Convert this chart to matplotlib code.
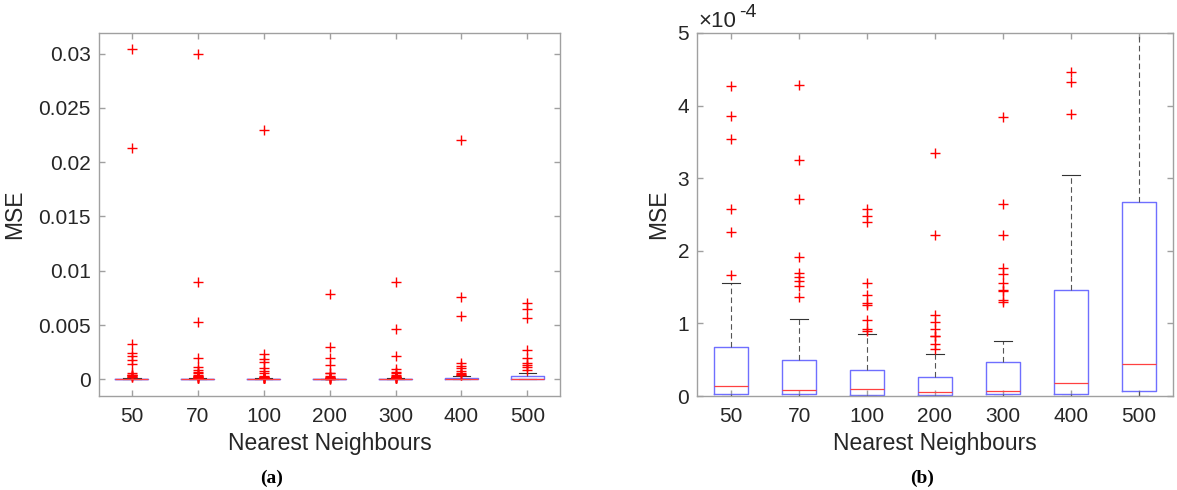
import matplotlib
matplotlib.use("Agg")
import matplotlib.pyplot as plt

plt.rcParams['font.family'] = ['Liberation Sans', 'DejaVu Sans']

# vizinhos mais próximos (rótulos do eixo x)
vizinhos = ['50', '70', '100', '200', '300', '400', '500']

# estatísticas das caixas (MSE)
q1 = [0.023e-4, 0.023e-4, 0.014e-4, 0.010e-4, 0.023e-4, 0.028e-4, 0.069e-4]
mediana = [0.133e-4, 0.083e-4, 0.096e-4, 0.050e-4, 0.069e-4, 0.174e-4, 0.436e-4]
q3 = [0.68e-4, 0.495e-4, 0.358e-4, 0.266e-4, 0.468e-4, 1.46e-4, 2.67e-4]
bigode_inf = [0.0, 0.0, 0.0, 0.0, 0.0, 0.0, 0.0]
bigode_sup = [1.55e-4, 1.064e-4, 0.85e-4, 0.578e-4, 0.752e-4, 3.05e-4, 6.1e-4]

# outliers de cada grupo
outliers = [
    [1.67e-4, 2.26e-4, 2.58e-4, 3.54e-4, 3.86e-4, 4.27e-4,
     0.00055, 0.0014, 0.0018, 0.0021, 0.00245, 0.00325, 0.02126, 0.0304],
    [1.36e-4, 1.52e-4, 1.58e-4, 1.64e-4, 1.70e-4, 1.91e-4, 2.71e-4, 3.25e-4, 4.29e-4,
     0.00055, 0.0007, 0.0009, 0.00116, 0.00193, 0.00531, 0.00893, 0.0300],
    [0.90e-4, 0.92e-4, 1.05e-4, 1.26e-4, 1.28e-4, 1.39e-4, 1.56e-4, 2.39e-4, 2.48e-4, 2.58e-4,
     0.0006, 0.0008, 0.0010, 0.0016, 0.0019, 0.00235, 0.02294],
    [0.65e-4, 0.72e-4, 0.82e-4, 0.83e-4, 0.92e-4, 1.02e-4, 1.11e-4, 2.22e-4, 3.35e-4,
     0.00055, 0.00062, 0.00132, 0.00193, 0.00295, 0.00783],
    [1.30e-4, 1.32e-4, 1.45e-4, 1.46e-4, 1.56e-4, 1.68e-4, 1.76e-4, 2.22e-4, 2.65e-4, 3.84e-4,
     0.00055, 0.0007, 0.00092, 0.00215, 0.00466, 0.00896],
    [3.89e-4, 4.33e-4, 4.46e-4,
     0.00055, 0.0008, 0.00101, 0.00123, 0.00147, 0.00586, 0.00755, 0.02202],
    [0.00086, 0.00111, 0.00132, 0.00153, 0.00193, 0.0027, 0.0056, 0.0065, 0.0070],
]

stats = []
for i in range(len(vizinhos)):
    stats.append({
        'label': vizinhos[i], 'q1': q1[i], 'med': mediana[i], 'q3': q3[i],
        'whislo': bigode_inf[i], 'whishi': bigode_sup[i], 'fliers': outliers[i],
    })

cor_eixo = '#a0a0a0'
cor_texto = '#262626'

fig = plt.figure(figsize=(11.77, 4.9), dpi=100)
ax_a = fig.add_axes([99 / 1177, 1 - 396 / 490, 461.3 / 1177, 363 / 490])
ax_b = fig.add_axes([697.3 / 1177, 1 - 396 / 490, 475.4 / 1177, 363 / 490])

for ax in (ax_a, ax_b):
    ax.bxp(stats, widths=0.5, capwidths=0.26, showfliers=True,
           boxprops=dict(color='#6f6fff', linewidth=1.0),
           medianprops=dict(color='#ff4040', linewidth=0.9),
           whiskerprops=dict(color='#555555', linewidth=0.8, linestyle=(0, (5, 3))),
           capprops=dict(color='#333333', linewidth=0.8),
           flierprops=dict(marker='+', markeredgecolor='#ff0000', markersize=6.5,
                           markeredgewidth=1.0, linestyle='none'))
    ax.set_xlim(0.5, 7.5)
    ax.set_xticks(range(1, 8))
    ax.set_xticklabels(vizinhos)
    for s in ax.spines.values():
        s.set_color(cor_eixo)
        s.set_linewidth(1.0)
    ax.tick_params(axis='both', direction='in', length=4, width=1.0, color=cor_eixo,
                   labelcolor=cor_texto, labelsize=15, top=True, right=True)
    ax.tick_params(axis='x', pad=8)
    ax.tick_params(axis='y', pad=5.8)
    ax.set_xlabel('Nearest Neighbours', fontsize=16.5, color=cor_texto)
    ax.set_ylabel('MSE', fontsize=16.5, color=cor_texto)
    ax.xaxis.set_label_coords(0.5, -0.1)

# (a) escala completa
ax_a.set_ylim(-0.00154, 0.0319)
ticks_a = [0, 0.005, 0.01, 0.015, 0.02, 0.025, 0.03]
ax_a.set_yticks(ticks_a)
ax_a.set_yticklabels([f'{t:g}' for t in ticks_a])
ax_a.yaxis.set_label_coords(-0.157, 0.5)

# (b) zoom perto de zero
ax_b.set_ylim(0, 5e-4)
ticks_b = [0, 1e-4, 2e-4, 3e-4, 4e-4, 5e-4]
ax_b.set_yticks(ticks_b)
ax_b.set_yticklabels([f'{t * 1e4:g}' for t in ticks_b])
ax_b.yaxis.set_label_coords(-0.0566, 0.5)
fig.text(698 / 1177, 1 - 27 / 490, '×10', fontsize=16, color=cor_texto, va='baseline')
fig.text(739 / 1177, 1 - 17 / 490, '-4', fontsize=14, color=cor_texto, va='baseline')

# legendas das subfiguras
fig.text(272 / 1177, 1 - 478 / 490, '(a)', fontsize=14, fontweight='bold',
         family='Liberation Serif', ha='center', va='center')
fig.text(922 / 1177, 1 - 478 / 490, '(b)', fontsize=14, fontweight='bold',
         family='Liberation Serif', ha='center', va='center')

fig.savefig('out.png', dpi=100)
